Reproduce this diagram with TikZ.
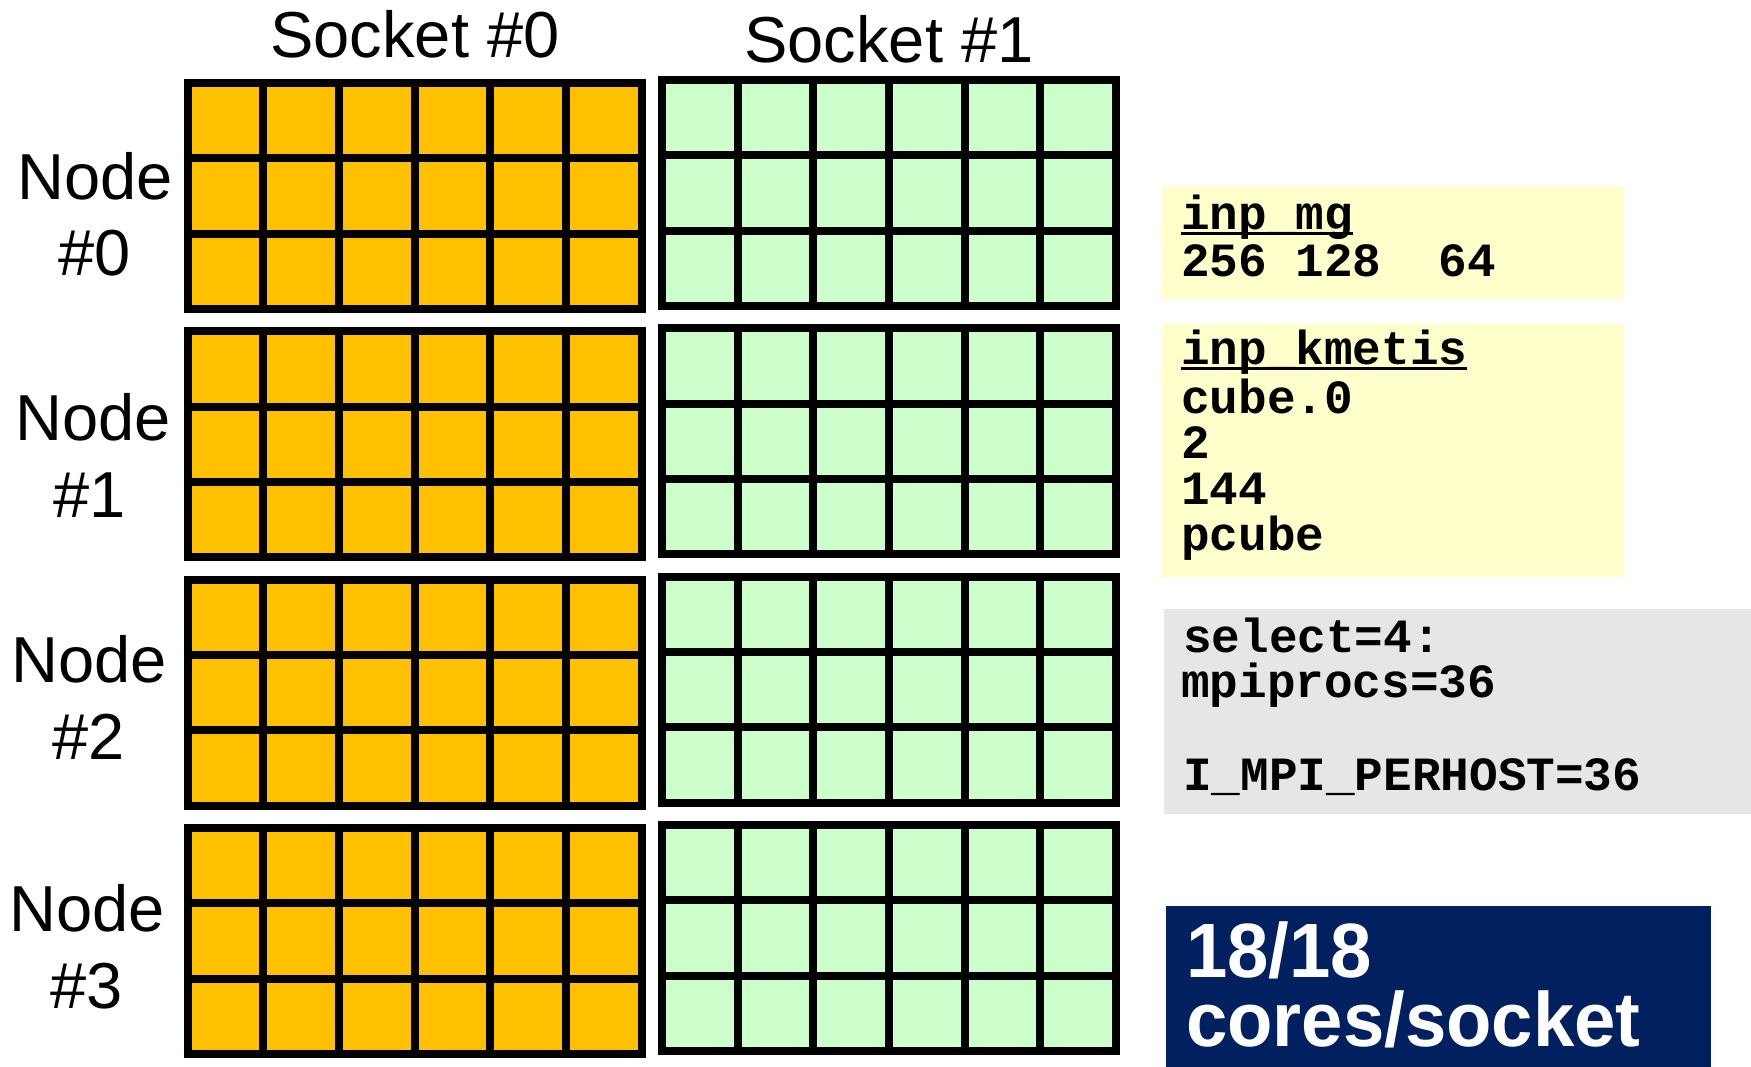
\documentclass[tikz,border=0pt]{standalone}
\usepackage{fontspec}
\setmainfont{Liberation Sans}
\newfontfamily\codefont{Liberation Mono}
\definecolor{coreorange}{HTML}{FFC000}
\definecolor{coregreen}{HTML}{CCFFCC}
\definecolor{noteyellow}{HTML}{FFFFCC}
\definecolor{notegray}{HTML}{E6E6E6}
\definecolor{navybox}{HTML}{002060}
\newcommand\myul[1]{\setbox0\hbox{#1}\rlap{\rule[-6pt]{\wd0}{2.6pt}}\box0}
\newcommand\us{\char95\relax}
\newcommand\coregrid[4]{% name, x, y, colour
  \node[gridbox, fill=#4, anchor=north west] (#1) at (#2,#3) {};
  \foreach \i in {1,...,5} \draw[gridline] ({#2+\i*75.67},#3) -- ++(0,226);
  \foreach \j in {1,2} \draw[gridline] (#2,{#3+\j*75.33}) -- ++(454,0);
  \draw[gridline] (#2,#3) rectangle ++(454,226);
}
\begin{document}
\begin{tikzpicture}[x=1pt,y=-1pt,
  gridbox/.style={draw=none, inner sep=0pt, minimum width=454pt, minimum height=226pt},
  gridline/.style={line width=8pt, black},
  bigtext/.style={inner sep=0pt, anchor=base, font=\fontsize{65}{70}\selectfont},
  codetext/.style={inner sep=0pt, anchor=base west, font=\codefont\bfseries\fontsize{47.7}{47}\selectfont},
  notebox/.style={draw=none, inner sep=0pt, anchor=north west},
  boldwhite/.style={inner sep=0pt, anchor=base west, text=white, font=\bfseries\fontsize{77}{60}\selectfont}
]
\useasboundingbox (0,0) rectangle (1751,1066);
\fill[white] (0,0) rectangle (1751,1066);

% socket labels
\node[bigtext] (s0) at (415,57) {Socket \#0};
\node[bigtext] (s1) at (889,62) {Socket \#1};

% grids
\coregrid{o0}{187.5}{83}{coreorange}
\coregrid{o1}{187.5}{331.3}{coreorange}
\coregrid{o2}{187.5}{579.6}{coreorange}
\coregrid{o3}{187.5}{828}{coreorange}
\coregrid{g0}{662}{80}{coregreen}
\coregrid{g1}{662}{328.3}{coregreen}
\coregrid{g2}{662}{576.6}{coregreen}
\coregrid{g3}{662}{825}{coregreen}

% node labels
\node[bigtext] (n0a) at (95,199) {Node};
\node[bigtext] (n0b) at (95,275) {\#0};
\node[bigtext] (n1a) at (93,440) {Node};
\node[bigtext] (n1b) at (90,517) {\#1};
\node[bigtext] (n2a) at (89,682) {Node};
\node[bigtext] (n2b) at (89,759) {\#2};
\node[bigtext] (n3a) at (87,931) {Node};
\node[bigtext] (n3b) at (87,1008) {\#3};

% note boxes
\node[notebox, fill=noteyellow, minimum width=461pt, minimum height=113pt] (mgbox) at (1162,186) {};
\node[notebox, fill=noteyellow, minimum width=461pt, minimum height=253pt] (kmbox) at (1162,324) {};
\node[notebox, fill=notegray, minimum width=587pt, minimum height=205pt] (pbsbox) at (1164,609) {};
\node[notebox, fill=navybox, minimum width=545pt, minimum height=161pt] (corebox) at (1166,906) {};

% note texts
\node[codetext] (mg1) at (1181,229) {\myul{inp\us mg}};
\node[codetext] (mg2) at (1181,276) {256 128\ \ 64};
\node[codetext] (km1) at (1181,364) {\myul{inp\us kmetis}};
\node[codetext] (km2) at (1181,413) {cube.0};
\node[codetext] (km3) at (1181,458) {2};
\node[codetext] (km4) at (1181,504) {144};
\node[codetext] (km5) at (1181,550) {pcube};
\node[codetext] (p1) at (1183,652) {select=4:};
\node[codetext] (p2) at (1181,697) {mpiprocs=36};
\node[codetext] (p3) at (1183,790) {I\us MPI\us PERHOST=36};
\node[boldwhite] (c1) at (1186,977) {\scalebox{0.965}[1]{18/18}};
\node[boldwhite] (c2) at (1186,1046) {\scalebox{0.965}[1]{cores/socket}};
\end{tikzpicture}
\end{document}
